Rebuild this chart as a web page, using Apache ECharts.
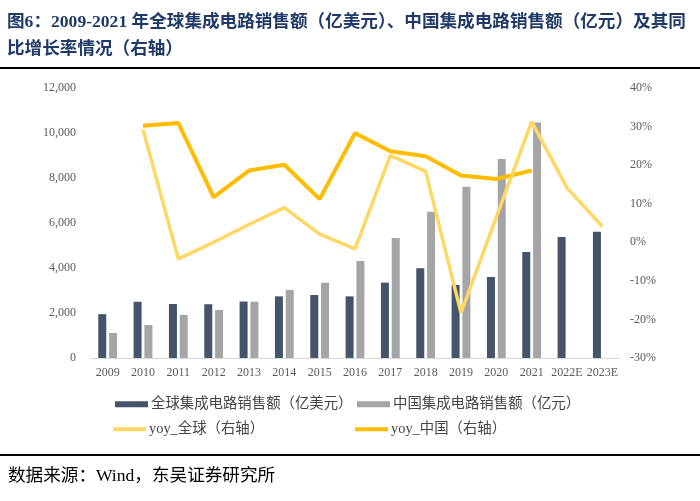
<!DOCTYPE html>
<html>
<head>
<meta charset="utf-8">
<script src="https://cdn.jsdelivr.net/npm/echarts@6/dist/echarts.min.js"></script>
<style>
html,body{margin:0;padding:0;background:#fff;}
#main{width:700px;height:501px;}
</style>
</head>
<body>
<div id="main"></div>
<script>
var categories = ['2009','2010','2011','2012','2013','2014','2015','2016','2017','2018','2019','2020','2021','2022E','2023E'];
var globalSales = [1950, 2500, 2400, 2390, 2510, 2740, 2800, 2740, 3350, 3985, 3245, 3600, 4710, 5380, 5615];
var chinaSales = [1110, 1465, 1910, 2135, 2500, 3020, 3345, 4310, 5335, 6500, 7615, 8845, 10470, null, null];
var yoyGlobal = [null, 29.2, -4.3, 0.0, 4.6, 9.0, 2.1, -1.7, 22.5, 18.4, -18.3, 6.5, 31.3, 14.1, 4.1];
var yoyChina = [null, 30.2, 30.9, 11.7, 18.6, 20.1, 11.2, 28.3, 23.6, 22.3, 17.3, 16.4, 18.6, null, null];
var leftTicks = {min: 0, max: 12000, interval: 2000};
var rightTicks = {min: -30, max: 40, interval: 10};

var names = ['全球集成电路销售额（亿美元）', '中国集成电路销售额（亿元）', 'yoy_全球（右轴）', 'yoy_中国（右轴）'];
var FONT = "'Liberation Serif', 'Noto Sans CJK SC', serif";
var C_DARK = '#44546A', C_GRAY = '#A5A5A5', C_LIGHT = '#FFD763', C_GOLD = '#FFBC00';

function legendAt(name, left, top, isLine) {
  return {
    data: [name], left: left, top: top, padding: 0, orient: 'horizontal',
    itemWidth: 33, itemHeight: isLine ? 4 : 6, icon: 'rect', itemGap: 0,
    selectedMode: false,
    textStyle: {fontFamily: FONT, fontSize: 14.4, color: '#454545', padding: [0, 0, 0, -2]}
  };
}

var chart = echarts.init(document.getElementById('main'), null, {renderer: 'canvas'});
chart.setOption({
  animation: false,
  backgroundColor: '#fff',
  title: {
    text: '图6：2009-2021 年全球集成电路销售额（亿美元）、中国集成电路销售额（亿元）及其同\n比增长率情况（右轴）',
    left: 7, top: 9, padding: 0,
    textStyle: {fontFamily: FONT, fontSize: 17.6, fontWeight: 'bold', color: '#1F3A68', lineHeight: 27}
  },
  legend: [
    legendAt(names[0], 115, 397, false),
    legendAt(names[1], 357, 397, false),
    legendAt(names[2], 113, 422, true),
    legendAt(names[3], 355, 422, true)
  ],
  grid: {left: 90, right: 80, top: 88, bottom: 143, containLabel: false},
  xAxis: {
    type: 'category', data: categories,
    axisLine: {lineStyle: {color: '#D9D9D9', width: 1}},
    axisTick: {show: false},
    axisLabel: {interval: 0, fontFamily: FONT, fontSize: 12, color: '#595959', margin: 9}
  },
  yAxis: [
    {
      type: 'value', min: leftTicks.min, max: leftTicks.max, interval: leftTicks.interval,
      splitLine: {show: false}, axisLine: {show: false}, axisTick: {show: false},
      axisLabel: {fontFamily: FONT, fontSize: 12, color: '#595959', margin: 14,
        formatter: function (v) { return v.toLocaleString('en-US'); }}
    },
    {
      type: 'value', min: rightTicks.min, max: rightTicks.max, interval: rightTicks.interval,
      splitLine: {show: false}, axisLine: {show: false}, axisTick: {show: false},
      axisLabel: {fontFamily: FONT, fontSize: 12, color: '#595959', margin: 10, formatter: '{value}%'}
    }
  ],
  series: [
    {name: names[0], type: 'bar', data: globalSales, barWidth: 8, barGap: '35%', itemStyle: {color: C_DARK}},
    {name: names[1], type: 'bar', data: chinaSales, barWidth: 8, barGap: '35%', itemStyle: {color: C_GRAY}},
    {name: names[3], type: 'line', yAxisIndex: 1, data: yoyChina, symbol: 'none', connectNulls: false,
      lineStyle: {color: C_GOLD, width: 4}, itemStyle: {color: C_GOLD}, z: 3},
    {name: names[2], type: 'line', yAxisIndex: 1, data: yoyGlobal, symbol: 'none', connectNulls: false,
      lineStyle: {color: C_LIGHT, width: 3.5}, itemStyle: {color: C_LIGHT}, z: 4}
  ],
  graphic: [
    {type: 'rect', shape: {x: 0, y: 67, width: 700, height: 2}, style: {fill: '#000'}},
    {type: 'rect', shape: {x: 0, y: 454, width: 700, height: 2}, style: {fill: '#000'}},
    {type: 'text', left: 8, top: 468,
      style: {text: '数据来源：Wind，东吴证券研究所', fontFamily: FONT, fontSize: 17.6, fill: '#000'}}
  ]
});
</script>
</body>
</html>
